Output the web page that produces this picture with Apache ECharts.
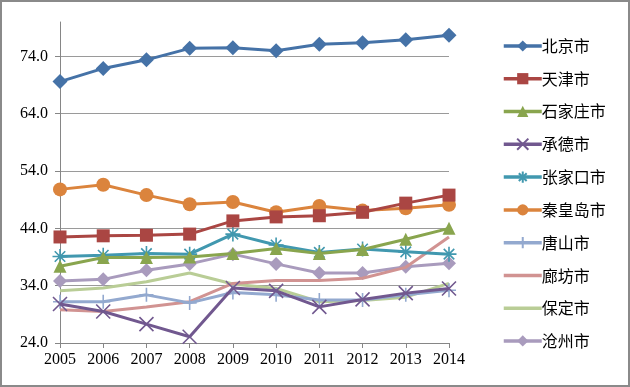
<!DOCTYPE html>
<html><head><meta charset="utf-8">
<script src="https://cdn.jsdelivr.net/npm/echarts@6/dist/echarts.min.js"></script>
<style>html,body{margin:0;padding:0;background:#fff}#c{width:630px;height:387px}</style>
</head><body><div id="c"></div>
<script>
var years = ['2005','2006','2007','2008','2009','2010','2011','2012','2013','2014'];
var names = ['北京市','天津市','石家庄市','承德市','张家口市','秦皇岛市','唐山市','廊坊市','保定市','沧州市'];
var beijing      = [69.6, 71.9, 73.4, 75.4, 75.5, 75.0, 76.1, 76.4, 76.9, 77.7];
var tianjin      = [42.5, 42.7, 42.8, 43.0, 45.3, 46.0, 46.2, 46.8, 48.4, 49.8];
var shijiazhuang = [37.4, 38.9, 38.9, 39.0, 39.6, 40.5, 39.6, 40.3, 42.1, 44.0];
var chengde      = [30.8, 29.5, 27.3, 25.1, 33.6, 33.1, 30.3, 31.6, 32.7, 33.5];
var zhangjiakou  = [39.1, 39.3, 39.6, 39.5, 43.0, 41.1, 39.8, 40.4, 39.9, 39.5];
var qinhuangdao  = [50.8, 51.6, 49.8, 48.2, 48.6, 46.8, 47.9, 47.1, 47.5, 48.1];
var tangshan     = [31.2, 31.2, 32.4, 31.0, 32.8, 32.4, 31.5, 31.5, 32.4, 33.2];
var langfang     = [29.8, 29.5, 30.3, 31.2, 34.4, 34.9, 34.9, 35.3, 37.2, 42.5];
var baoding      = [33.1, 33.6, 34.7, 36.2, 34.3, 33.5, 31.2, 31.4, 32.0, 34.4];
var cangzhou     = [34.8, 35.1, 36.7, 37.8, 39.5, 37.8, 36.2, 36.2, 37.3, 37.9];
var yMin = 24, yMax = 80, yStep = 10;

var values = [beijing, tianjin, shijiazhuang, chengde, zhangjiakou, qinhuangdao, tangshan, langfang, baoding, cangzhou];
var colors = ['#4572A7','#AA4643','#89A54E','#71588F','#4198AF','#DB843D','#93A9CF','#D19392','#B9CD96','#A99BBD'];
var X = 'path://M0,0L10,10M10,0L0,10';
var STAR = 'path://M5,0L5,10M0,5L10,5M1.5,1.5L8.5,8.5M8.5,1.5L1.5,8.5';
var PLUS = 'path://M5,0L5,10M0,5L10,5';
var symbols = ['diamond','rect','triangle',X,STAR,'circle',PLUS,'none','none','diamond'];
var sizes = [15,13,13,14,15,14,14,0,0,14];

var series = names.map(function(n,i){
  var s = symbols[i];
  var stroked = (s===X||s===STAR||s===PLUS);
  var st;
  if (s==='none') st = {color:colors[i], opacity:0};
  else if (stroked) st = {color:'none', borderColor:colors[i], borderWidth:1.6};
  else st = {color:colors[i], borderWidth:0};
  return {
    name:n, type:'line', data:values[i],
    symbol:s, symbolSize:sizes[i], showSymbol: s!=='none',
    lineStyle:{color:colors[i], width:3},
    itemStyle: st,
    emphasis:{disabled:true}, animation:false, z: 10-i
  };
});

var chart = echarts.init(document.getElementById('c'), null, {renderer:'canvas'});
chart.setOption({
  backgroundColor:'#fff',
  animation:false,
  grid:{left:60, right:181, top:22, bottom:44},
  xAxis:{
    type:'category', data:years, boundaryGap:false,
    axisLine:{lineStyle:{color:'#868686', width:1}},
    axisTick:{show:true, length:5, lineStyle:{color:'#868686'}, alignWithLabel:true},
    axisLabel:{color:'#000', fontFamily:'Liberation Serif', fontSize:16, margin:9},
    splitLine:{show:false}
  },
  yAxis:{
    type:'value', min:yMin, max:yMax, interval:yStep,
    axisLine:{show:true, lineStyle:{color:'#868686', width:1}},
    axisTick:{show:true, length:5, lineStyle:{color:'#868686'}},
    axisLabel:{color:'#000', fontFamily:'Liberation Serif', fontSize:16, margin:12, showMaxLabel:false,
      formatter:function(v){return v.toFixed(1);}},
    splitLine:{show:true, showMinLine:false, showMaxLine:false, lineStyle:{color:'#9a9a9a', width:1}}
  },
  legend:{
    orient:'vertical', left:497, top:33,
    itemWidth:38, itemHeight:14, itemGap:16.7,
    lineStyle:{width:3.5},
    textStyle:{color:'#000', fontFamily:'Noto Sans CJK SC', fontSize:16, padding:[0,0,0,-5]},
    data:names
  },
  graphic:[{type:'rect', shape:{x:1, y:1, width:628, height:385}, style:{fill:'none', stroke:'#8a8a8a', lineWidth:2}, z:100}],
  series:series
});
</script></body></html>
